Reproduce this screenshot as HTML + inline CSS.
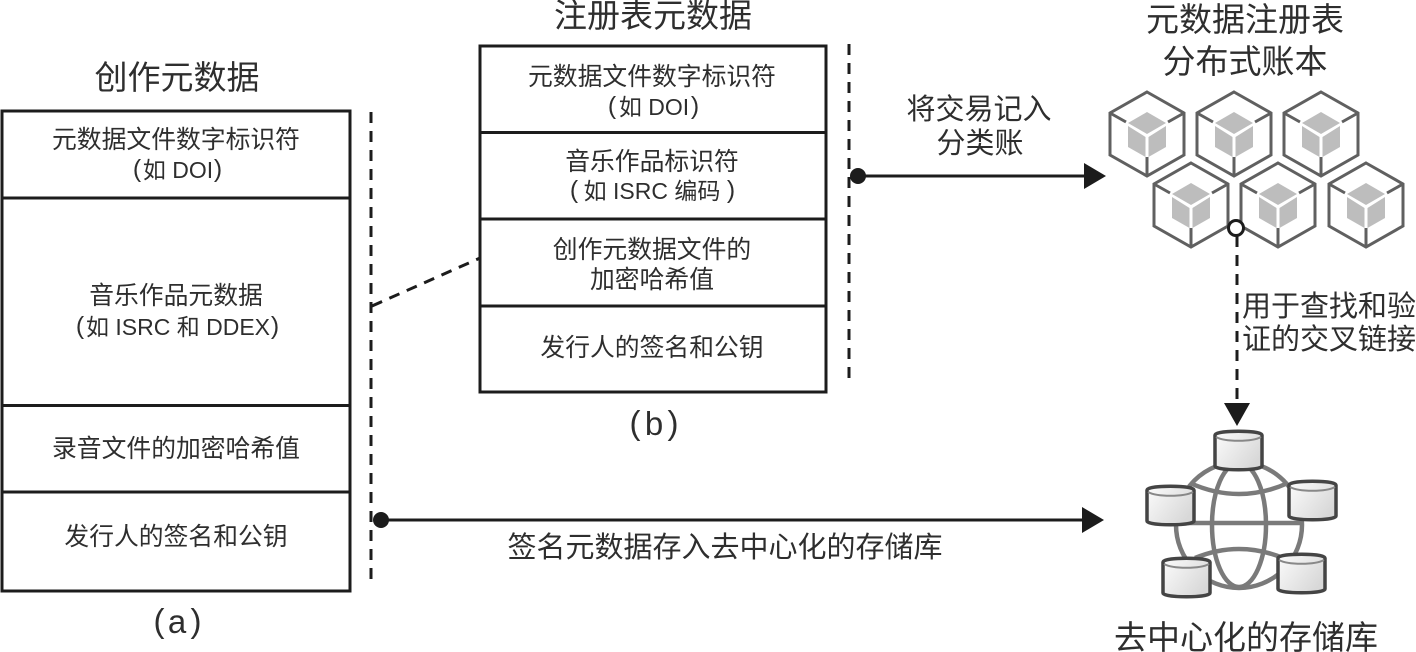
<!DOCTYPE html>
<html><head><meta charset="utf-8"><style>
html,body{margin:0;padding:0;background:#fff}
svg{display:block}
text{font-family:"Liberation Sans","Noto Sans CJK SC",sans-serif;fill:#2e2e2e;text-anchor:middle}
.t{font-size:33px}.b{font-size:24.8px}.l{font-size:29px}.m{font-size:24px}.p{font-size:33px}
.cyl{fill:url(#g);stroke:#444;stroke-width:3.500}
</style></head><body>
<svg width="1416" height="652" viewBox="0 0 1416 652" xmlns="http://www.w3.org/2000/svg">
<defs>
<linearGradient id="g" x1="0" x2="1" y1="0" y2="0.600"><stop offset="0" stop-color="#fcfcfc"/><stop offset="1" stop-color="#d8d8d8"/></linearGradient>
<g id="cube">
<path d="M0-42L37-21V21L0 42L-37 21V-21Z" fill="#fff" stroke="#606060" stroke-width="3"/>
<path d="M-37-21L-21-12M37-21L21-12M0 42V23" stroke="#606060" stroke-width="3" fill="none"/>
<path d="M0-22L19-11L0 0L-19-11Z" fill="#bdbdbd"/>
<path d="M-19-8L-1.500 3V23L-19 13Z" fill="#bdbdbd"/>
<path d="M19-8L1.500 3V23L19 13Z" fill="#bdbdbd"/>
</g>
<g id="cyl">
<path class="cyl" d="M0 4C0 -1 47 -1 47 4V35C47 40 0 40 0 35Z"/>
<path d="M1 6C10 11 37 11 46 6" stroke="#888" stroke-width="2" fill="none"/>
</g>
</defs>

<g fill="none" stroke="#1c1c1c" stroke-width="3">
<rect x="2" y="111" width="348" height="480"/>
<path d="M2 198H350M2 405.500H350M2 492H350"/>
<rect x="480" y="46" width="346" height="346"/>
<path d="M480 132.500H826M480 219H826M480 306H826"/>
</g>

<!-- Box a text -->
<text class="t" x="177" y="89">创作元数据</text>
<text class="b" x="176" y="148">元数据文件数字标识符</text>
<text class="b" x="137" y="177">(</text>
<text class="b" x="178" y="178" style="font-size:23px">如 DOI</text>
<text class="b" x="218" y="177">)</text>
<text class="b" x="176" y="304">音乐作品元数据</text>
<text class="b" x="80" y="334">(</text>
<text class="b" x="178" y="335" style="font-size:23px">如 ISRC 和 DDEX</text>
<text class="b" x="275" y="334">)</text>
<text class="b" x="176" y="457">录音文件的加密哈希值</text>
<text class="b" x="176" y="545">发行人的签名和公钥</text>
<text class="p" x="159" y="632">(</text>
<text class="p" x="177" y="633">a</text>
<text class="p" x="196" y="632">)</text>

<!-- Box b text -->
<text class="t" x="653" y="27">注册表元数据</text>
<text class="b" x="652" y="85">元数据文件数字标识符</text>
<text class="b" x="612" y="114">(</text>
<text class="b" x="654" y="115" style="font-size:23px">如 DOI</text>
<text class="b" x="695" y="114">)</text>
<text class="b" x="652" y="170">音乐作品标识符</text>
<text class="b" x="574" y="198">(</text>
<text class="b" x="652" y="199" style="font-size:23px">如 ISRC 编码</text>
<text class="b" x="731" y="198">)</text>
<text class="b" x="652" y="258">创作元数据文件的</text>
<text class="b" x="652" y="288">加密哈希值</text>
<text class="b" x="652" y="356">发行人的签名和公钥</text>
<text class="p" x="635" y="434">(</text>
<text class="p" x="654" y="435">b</text>
<text class="p" x="673" y="434">)</text>

<g stroke="#1c1c1c" stroke-width="3" fill="none" stroke-dasharray="11 8">
<path d="M371 112V584"/>
<path d="M849 44V385"/>
<path d="M372 306L480 258"/>
<path d="M1237 236V404"/>
</g>

<g stroke="#1c1c1c" stroke-width="3" fill="#1c1c1c">
<path d="M858 176H1086"/>
<path d="M381 520H1084"/>
</g>
<circle cx="858" cy="176" r="8" fill="#1c1c1c"/>
<circle cx="381" cy="520" r="8" fill="#1c1c1c"/>
<path d="M1084 163L1106 176L1084 189Z" fill="#1c1c1c"/>
<path d="M1082 507L1104 520L1082 533Z" fill="#1c1c1c"/>
<path d="M1224 403H1250L1237 426Z" fill="#1c1c1c"/>

<text class="l" x="979" y="119">将交易记入</text>
<text class="l" x="980" y="153">分类账</text>
<text class="l" x="725" y="557">签名元数据存入去中心化的存储库</text>
<text class="l" x="1329" y="316">用于查找和验</text>
<text class="l" x="1329" y="349">证的交叉链接</text>

<text class="t" x="1245" y="31">元数据注册表</text>
<text class="t" x="1245" y="73">分布式账本</text>

<use href="#cube" x="1147" y="134"/>
<use href="#cube" x="1234" y="134"/>
<use href="#cube" x="1321" y="134"/>
<use href="#cube" x="1191" y="205"/>
<use href="#cube" x="1278" y="205"/>
<use href="#cube" x="1366" y="205"/>
<circle cx="1236" cy="228" r="7.500" fill="#fff" stroke="#1c1c1c" stroke-width="3"/>

<g fill="none" stroke="#7a7a7a" stroke-width="4.500">
<circle cx="1239" cy="525" r="63"/>
<ellipse cx="1239" cy="525" rx="27" ry="62"/>
<path d="M1182 523H1302"/>
<path d="M1190 483Q1239 505 1288 483"/>
<path d="M1195 558Q1239 540 1283 558"/>
</g>
<use href="#cyl" x="1215" y="431"/>
<use href="#cyl" x="1147" y="486"/>
<use href="#cyl" x="1289" y="481"/>
<use href="#cyl" x="1163" y="558"/>
<use href="#cyl" x="1278" y="554"/>

<text class="t" x="1246" y="649">去中心化的存储库</text>
</svg>
</body></html>
